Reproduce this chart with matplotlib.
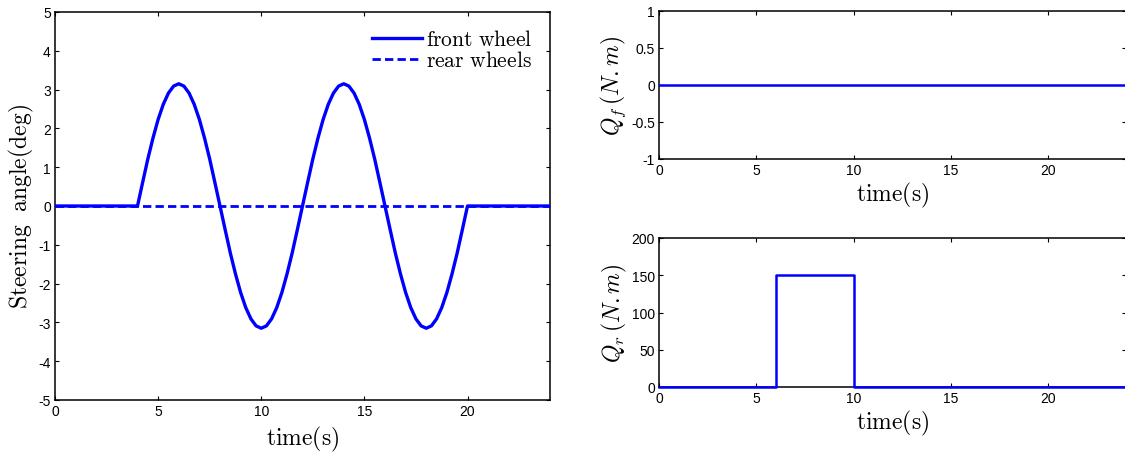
import matplotlib
matplotlib.use("Agg")
import matplotlib.pyplot as plt

plt.rcParams['mathtext.fontset'] = 'cm'
plt.rcParams['font.family'] = ['Liberation Sans', 'DejaVu Sans']
plt.rcParams['axes.unicode_minus'] = False

# Steering manoeuvre: front wheel angle (deg), sampled every 0.25 s over 4..20 s
time_front = [0.0] + [4.0 + 0.25 * k for k in range(65)] + [24.0]
front_vals = [0.0,
              0.00, 0.61, 1.21, 1.75, 2.23, 2.62, 2.91, 3.09, 3.15,
              3.09, 2.91, 2.62, 2.23, 1.75, 1.21, 0.61, 0.00,
              -0.61, -1.21, -1.75, -2.23, -2.62, -2.91, -3.09, -3.15,
              -3.09, -2.91, -2.62, -2.23, -1.75, -1.21, -0.61, 0.00,
              0.61, 1.21, 1.75, 2.23, 2.62, 2.91, 3.09, 3.15,
              3.09, 2.91, 2.62, 2.23, 1.75, 1.21, 0.61, 0.00,
              -0.61, -1.21, -1.75, -2.23, -2.62, -2.91, -3.09, -3.15,
              -3.09, -2.91, -2.62, -2.23, -1.75, -1.21, -0.61, 0.00,
              0.0]
time_rear = [0.0, 24.0]
rear_vals = [0.0, 0.0]

# Control torques (N.m)
time_qf = [0.0, 24.0]
qf_vals = [0.0, 0.0]
time_qr = [0.0, 6.0, 6.0, 10.0, 10.0, 24.0]
qr_vals = [0.0, 0.0, 150.0, 150.0, 0.0, 0.0]

x_ticks = [0, 5, 10, 15, 20]
blue = '#0000FF'

W, H = 1125, 456
fig = plt.figure(figsize=(W / 100, H / 100), dpi=100)


def box(l, t, r, b):
    return [l / W, 1 - b / H, (r - l) / W, (b - t) / H]


def style(ax):
    ax.tick_params(direction='in', top=True, right=True, length=3, width=0.8,
                   labelsize=10, pad=3)
    for s in ax.spines.values():
        s.set_linewidth(1.1)


tlabel = r'$\mathrm{time(s)}$'

# Left: steering angles
ax1 = fig.add_axes(box(55, 13, 550, 401))
ax1.plot(time_rear, rear_vals, color=blue, lw=2.0, ls=(0, (3, 1.5)),
         label=r'$\mathrm{rear\ wheels}$', zorder=3)
ax1.plot(time_front, front_vals, color=blue, lw=2.4,
         label=r'$\mathrm{front\ wheel}$', zorder=4)
ax1.set_xlim(0, 24)
ax1.set_ylim(-5, 5)
ax1.set_xticks(x_ticks)
ax1.set_yticks(range(-5, 6))
ax1.set_xlabel(tlabel, fontsize=17, labelpad=4)
ax1.set_ylabel(r'$\mathrm{Steering\ \ angle(deg)}$', fontsize=17, labelpad=2)
style(ax1)
h, l = ax1.get_legend_handles_labels()
ax1.legend(h[::-1], l[::-1], loc='upper right', frameon=False, fontsize=15.5,
           handlelength=2.3, handletextpad=0.2, labelspacing=0.0,
           borderaxespad=0.4)

# Right top: front torque
ax2 = fig.add_axes(box(659, 12, 1126, 160))
ax2.plot(time_qf, qf_vals, color=blue, lw=1.8, zorder=4)
ax2.set_xlim(0, 24)
ax2.set_ylim(-1, 1)
ax2.set_xticks(x_ticks)
ax2.set_yticks([-1, -0.5, 0, 0.5, 1])
ax2.set_yticklabels(['-1', '-0.5', '0', '0.5', '1'])
ax2.set_xlabel(tlabel, fontsize=17, labelpad=2)
ax2.set_ylabel(r'$Q_f\,(N.m)$', fontsize=17, labelpad=2)
style(ax2)

# Right bottom: rear torque
ax3 = fig.add_axes(box(659, 239, 1126, 388))
ax3.plot(time_qr, qr_vals, color=blue, lw=1.8, zorder=4, clip_on=False)
ax3.set_xlim(0, 24)
ax3.set_ylim(0, 200)
ax3.set_xticks(x_ticks)
ax3.set_yticks([0, 50, 100, 150, 200])
ax3.set_xlabel(tlabel, fontsize=17, labelpad=2)
ax3.set_ylabel(r'$Q_r\,(N.m)$', fontsize=17, labelpad=2)
style(ax3)

fig.savefig('out.png', dpi=100)
